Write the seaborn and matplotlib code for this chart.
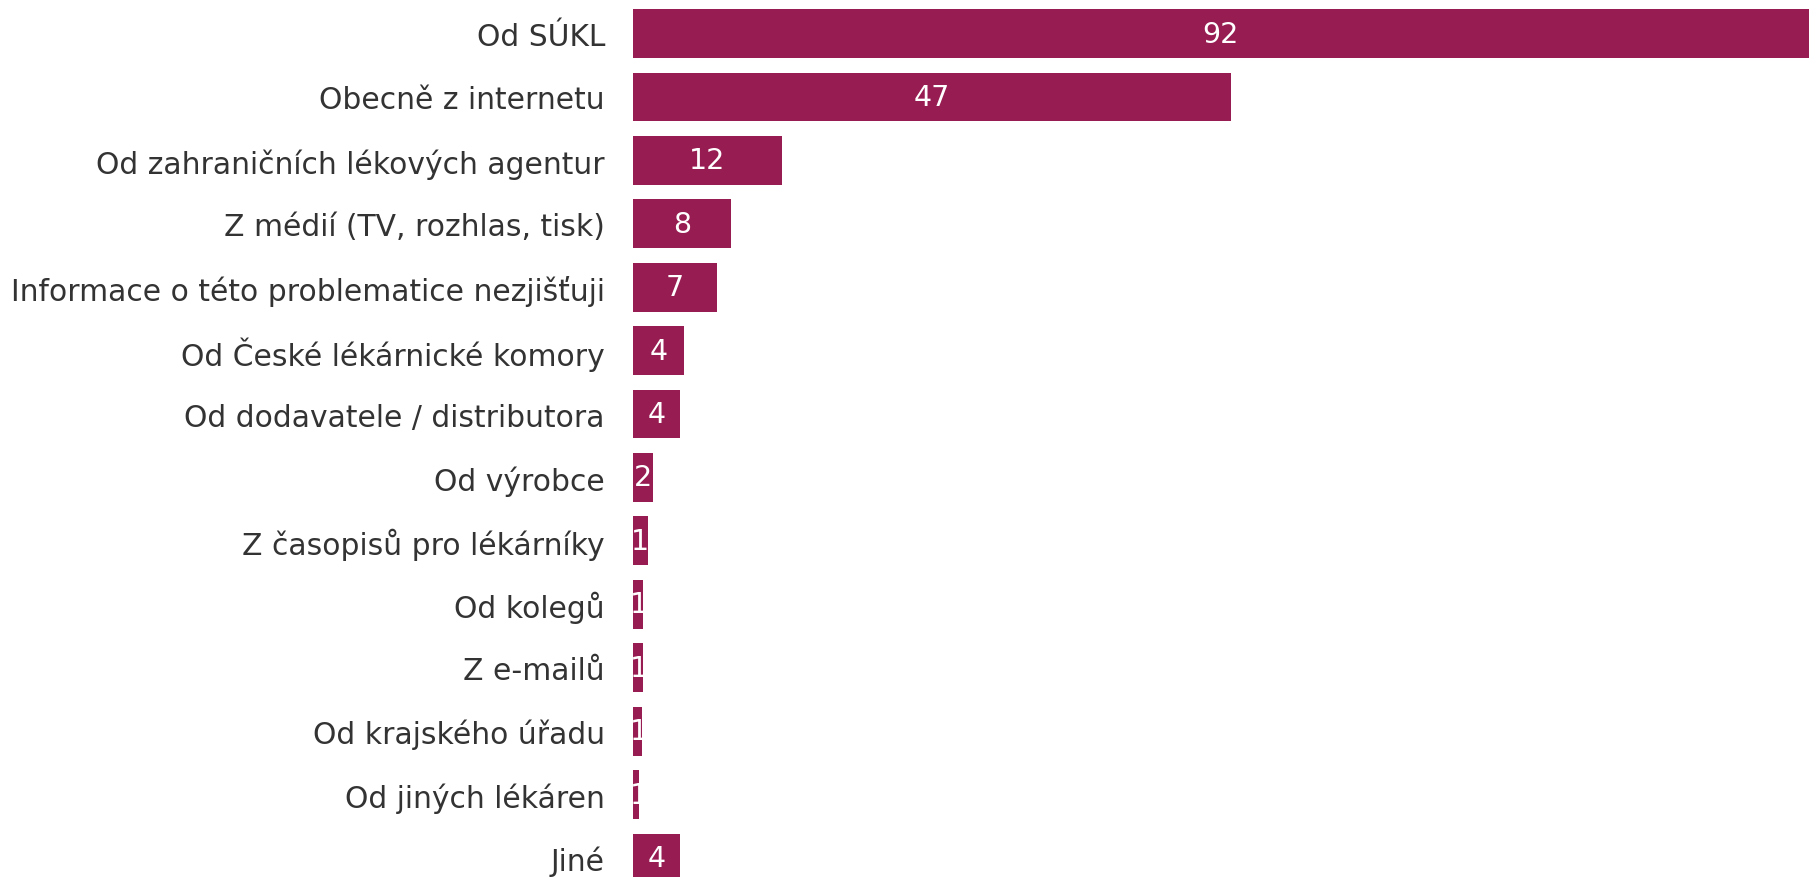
import math
import matplotlib
matplotlib.use("Agg")
import matplotlib.pyplot as plt
import seaborn as sns
import pandas as pd

# Odkud lékárníci získávají informace (podíl odpovědí, %)
categories = [
    "Od SÚKL",
    "Obecně z internetu",
    "Od zahraničních lékových agentur",
    "Z médií (TV, rozhlas, tisk)",
    "Informace o této problematice nezjišťuji",
    "Od České lékárnické komory",
    "Od dodavatele / distributora",
    "Od výrobce",
    "Z časopisů pro lékárníky",
    "Od kolegů",
    "Z e-mailů",
    "Od krajského úřadu",
    "Od jiných lékáren",
    "Jiné",
]
values = [92.0, 46.8, 11.7, 7.7, 6.6, 4.0, 3.7, 1.6, 1.2, 0.8, 0.8, 0.7, 0.52, 3.7]

bar_color = "#971c51"
text_color = "#333333"

df = pd.DataFrame({"source": categories, "share": values})

sns.set_style("white")
plt.rcParams["font.family"] = ["DejaVu Sans"]

fig = plt.figure(figsize=(18.09, 8.78), dpi=100)
ax = fig.add_axes([632.7 / 1809, 0, (1809 - 632.7) / 1809, 1])

sns.barplot(data=df, y="source", x="share", orient="h", color=bar_color,
            saturation=1, width=0.77, linewidth=0, ax=ax)

ax.set_xlim(0, 92)
ax.set_ylim(13.30, -0.544)
ax.set_xlabel("")
ax.set_ylabel("")
ax.set_xticks([])
ax.tick_params(axis="y", length=0, pad=20, labelsize=21.4, labelcolor=text_color)
sns.despine(ax=ax, left=True, bottom=True, top=True, right=True)

# hodnoty uvnitř pruhů (u úzkých pruhů text začíná na jejich levém okraji)
for i, v in enumerate(values):
    label = str(math.floor(v + 0.5))
    x = max(v / 2, 0.47)
    ax.text(x, i, label, ha="center", va="center", color="white", fontsize=20.5)

fig.savefig("out.png", dpi=100)
